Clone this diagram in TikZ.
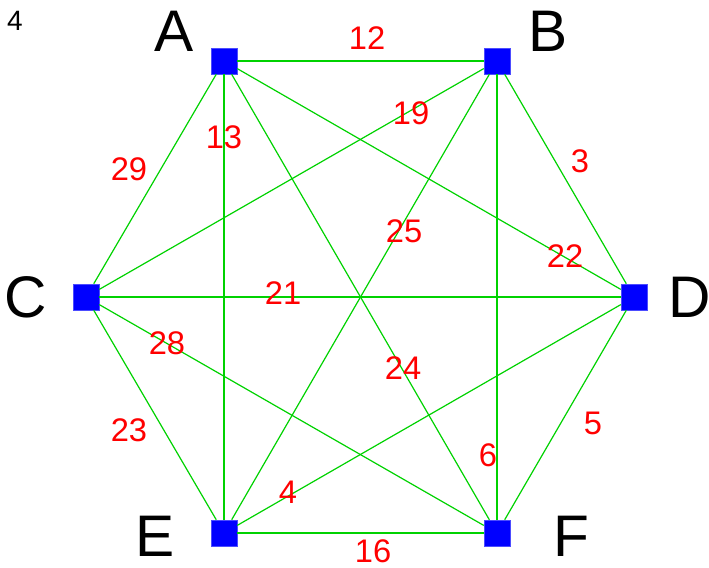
\documentclass[tikz,border=0pt]{standalone}
\usepackage{fontspec}
\setmainfont{Liberation Sans}
\usepackage{xcolor}
\usetikzlibrary{positioning}
\definecolor{edgegreen}{RGB}{0,210,0}

\begin{document}
\begin{tikzpicture}[
    x=0.75pt, y=-0.75pt,
    vertex/.style={draw=blue!70!white, fill=blue, minimum size=19.5pt, inner sep=0pt, line width=0.4pt},
    vlabel/.style={font=\fontsize{44}{44}\selectfont, text=black},
    weight/.style={font=\fontsize{24.5}{24.5}\selectfont, text=red},
    link/.style={draw=edgegreen, line width=0.9pt}
]
    \useasboundingbox (0,0) rectangle (709,567);
    % vertices
    \node[vertex] (A) at (224,61) {};
    \node[vertex] (B) at (497,61) {};
    \node[vertex] (C) at (86,297) {};
    \node[vertex] (D) at (634,297) {};
    \node[vertex] (E) at (224,533) {};
    \node[vertex] (F) at (497,533) {};
    % vertex letters
    \node[vlabel] (lA) at (174,31) {A};
    \node[vlabel] (lB) at (548,31) {B};
    \node[vlabel] (lC) at (26,297) {C};
    \node[vlabel] (lD) at (690,297) {D};
    \node[vlabel] (lE) at (155,536) {E};
    \node[vlabel] (lF) at (571,536) {F};
    \node[font=\fontsize{21}{21}\selectfont] (num) at (15,21) {4};
    % edges
    \foreach \u/\v in {A/B, B/D, D/F, F/E, E/C, C/A, A/E, B/F, A/D, A/F, B/C, B/E, C/D, C/F, E/D}
        \draw[link] (\u) -- (\v);
    % weights
    \node[weight] (wAB) at (367,38) {12};
    \node[weight] (wBC) at (411,113) {19};
    \node[weight] (wBD) at (580,161) {3};
    \node[weight] (wAC) at (129,169) {29};
    \node[weight] (wAE) at (224,137) {13};
    \node[weight] (wBE) at (404,231) {25};
    \node[weight] (wAD) at (565,256) {22};
    \node[weight] (wCD) at (283,293) {21};
    \node[weight] (wCF) at (167,343) {28};
    \node[weight] (wAF) at (403,368) {24};
    \node[weight] (wCE) at (129,430) {23};
    \node[weight] (wDF) at (593,423) {5};
    \node[weight] (wBF) at (488,455) {6};
    \node[weight] (wDE) at (288,492) {4};
    \node[weight] (wEF) at (373,551) {16};
\end{tikzpicture}
\end{document}
